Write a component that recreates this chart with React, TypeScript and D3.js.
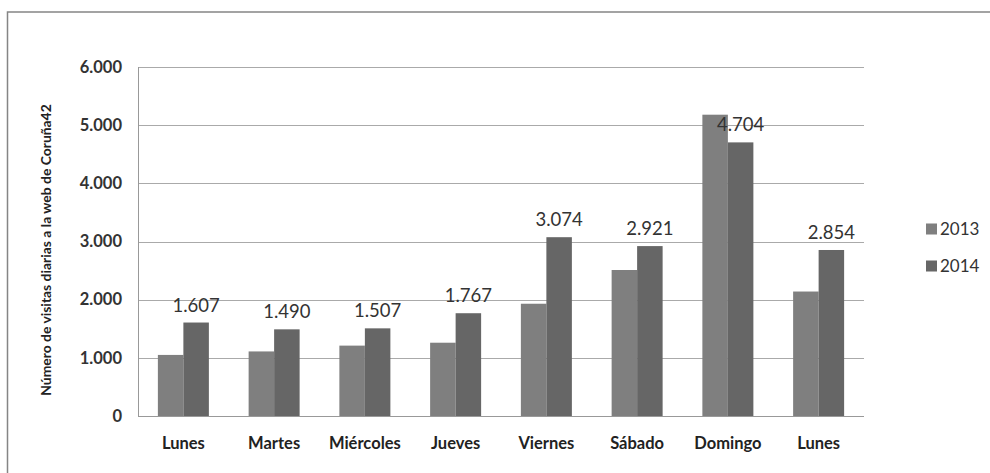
import React from "react";
import * as d3 from "d3";

const categories = ["Lunes", "Martes", "Miércoles", "Jueves", "Viernes", "Sábado", "Domingo", "Lunes"];
const series2013 = [1050, 1110, 1210, 1260, 1930, 2510, 5180, 2140];
const series2014 = [1607, 1490, 1507, 1767, 3074, 2921, 4704, 2854];
const seriesNames = ["2013", "2014"];
const seriesColors = ["#7f7f7f", "#666666"];
const yTicks = [0, 1000, 2000, 3000, 4000, 5000, 6000];

const fmt = (v: number) => {
  if (v === 0) return "0";
  const s = Math.round(v).toString();
  return s.length > 3 ? s.slice(0, s.length - 3) + "." + s.slice(s.length - 3) : s;
};

export default function App() {
  const W = 990, H = 473;
  const left = 138, right = 864, top = 67, bottom = 416;
  const x = d3.scaleBand<number>().domain(categories.map((_, i) => i)).range([left, right]).paddingInner(0.438).paddingOuter(0.219);
  const y = d3.scaleLinear().domain([0, 6000]).range([bottom, top]);
  const inner = d3.scaleBand<number>().domain([0, 1]).range([0, x.bandwidth()]);
  const data = [series2013, series2014];
  const font = "Lato, 'Open Sans', sans-serif";

  return (
    <svg width={W} height={H} style={{ position: "absolute", left: 0, top: 0, background: "#fff" }} fontFamily={font}>
      <rect x={0} y={0} width={W} height={H} fill="#fff" />
      <rect x={7.5} y={12} width={1000} height={500} fill="none" stroke="#858585" strokeWidth={1.5} />
      {yTicks.map((t) => (
        <g key={t}>
          <line x1={left} x2={right} y1={Math.round(y(t)) + 0.5} y2={Math.round(y(t)) + 0.5} stroke={t === 0 ? "#999" : "#aaa"} strokeWidth={1} />
          <text x={122} y={y(t)} dy="0.35em" textAnchor="end" fontSize={16.5} fontWeight={700} fill="#333">{fmt(t)}</text>
        </g>
      ))}
      <line x1={left + 0.5} x2={left + 0.5} y1={top} y2={bottom} stroke="#999" />
      {data.map((vals, si) =>
        vals.map((v, i) => (
          <rect key={si + "-" + i} x={(x(i) as number) + (inner(si) as number)} y={y(v)} width={inner.bandwidth()} height={bottom - y(v)} fill={seriesColors[si]} />
        ))
      )}
      {series2014.map((v, i) => (
        <text key={"l" + i} x={(x(i) as number) + (inner(1) as number) + inner.bandwidth() / 2} y={y(v) - 11} textAnchor="middle" fontSize={18.5} fill="#333">{fmt(v)}</text>
      ))}
      {categories.map((c, i) => (
        <text key={"c" + i} x={(x(i) as number) + x.bandwidth() / 2} y={449} textAnchor="middle" fontSize={16.5} fontWeight={700} fill="#222">{c}</text>
      ))}
      <text transform={`translate(46,250) rotate(-90)`} textAnchor="middle" dy="0.35em" fontSize={13.9} fontWeight={700} fill="#222">Número de visitas diarias a la web de Coruña42</text>
      {seriesNames.map((n, i) => (
        <g key={n} transform={`translate(926,${229 + i * 37})`}>
          <rect x={0} y={-5.5} width={11} height={11} fill={seriesColors[i]} />
          <text x={14} y={0} dy="0.35em" fontSize={17} fill="#333">{n}</text>
        </g>
      ))}
    </svg>
  );
}
